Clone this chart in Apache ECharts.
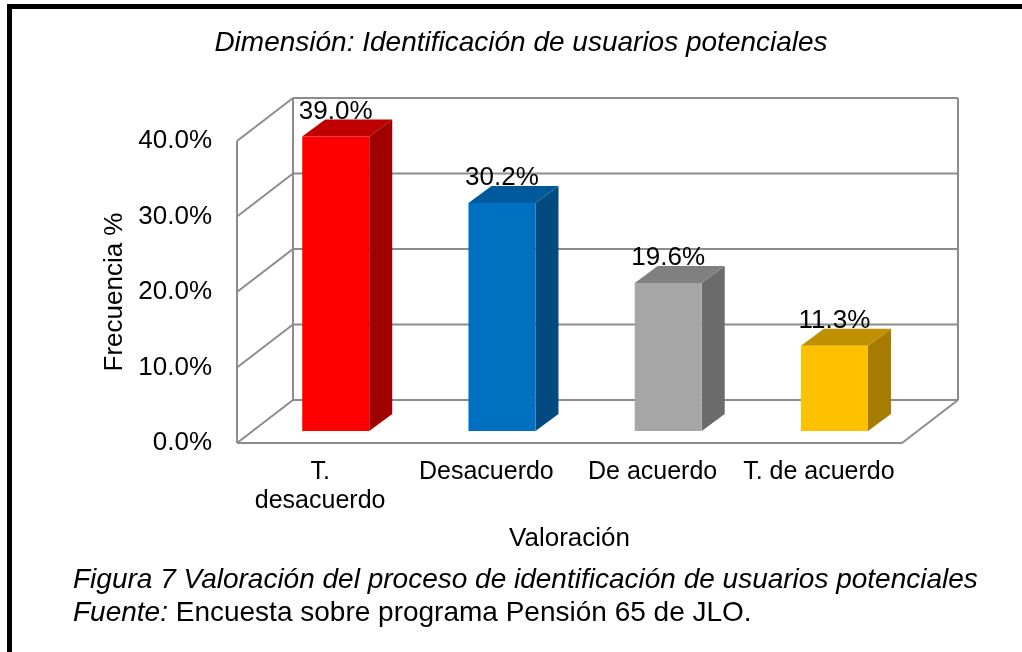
<!DOCTYPE html>
<html>
<head>
<meta charset="utf-8">
<script src="https://cdn.jsdelivr.net/npm/echarts@6/dist/echarts.min.js"></script>
<style>
  html, body { margin: 0; padding: 0; background: #fff; }
  #chart { width: 1022px; height: 652px; }
</style>
</head>
<body>
<div id="chart"></div>
<script>
// datos
const categories = ["T.\ndesacuerdo", "Desacuerdo", "De acuerdo", "T. de acuerdo"];
const values = [39.0, 30.2, 19.6, 11.3];
const yTicks = [0, 10, 20, 30, 40];
const frontColors = ["#ff0000", "#0070c0", "#a6a6a6", "#ffc000"];
const topColors = ["#c00000", "#00599a", "#808080", "#bf9000"];
const sideColors = ["#a00000", "#004a80", "#6b6b6b", "#a67c00"];

const FONT = "Liberation Sans, Arial, sans-serif";
const GRID = "#8c8c8c";
// profundidad del "3D"
const DEPTH = [56, -43];
const BAR_FRONT = [15.6, -12];
const BAR_DEPTH = [23, -17];

const chart = echarts.init(document.getElementById("chart"));

// paredes y piso
function renderFrame(params, api) {
  const cs = params.coordSys;
  const x0 = cs.x, x1 = cs.x + cs.width;
  const y = (v) => api.coord([0, v])[1];
  const st = { stroke: GRID, lineWidth: 2 };
  const line = (a, b, c, d) => ({ type: "line", shape: { x1: a, y1: b, x2: c, y2: d }, style: st });
  const dx = DEPTH[0], dy = DEPTH[1];
  const yMin = y(yTicks[0]), yMax = y(yTicks[yTicks.length - 1]);
  const children = [];
  yTicks.forEach((t) => {
    children.push(line(x0 + dx, y(t) + dy, x1 + dx, y(t) + dy));
    children.push(line(x0, y(t), x0 + dx, y(t) + dy));
  });
  children.push(line(x0 + dx, yMin + dy, x0 + dx, yMax + dy));
  children.push(line(x1 + dx, yMin + dy, x1 + dx, yMax + dy));
  children.push(line(x0, yMin, x0, yMax));
  children.push(line(x0, yMin, x1, yMin));
  children.push(line(x1, yMin, x1 + dx, yMin + dy));
  return { type: "group", silent: true, children: children };
}

// barras 3D
function renderBar(params, api) {
  const i = api.value(0);
  const base = api.coord([i, 0]);
  const top = api.coord([i, api.value(1)]);
  const w = api.size([1, 0])[0] * 0.403;
  const xl = base[0] - w / 2 + BAR_FRONT[0];
  const xr = xl + w;
  const yb = base[1] + BAR_FRONT[1];
  const yt = top[1] + BAR_FRONT[1];
  const bx = BAR_DEPTH[0], by = BAR_DEPTH[1];
  return {
    type: "group",
    children: [
      { type: "polygon", shape: { points: [[xr, yt], [xr + bx, yt + by], [xr + bx, yb + by], [xr, yb]] },
        style: { fill: sideColors[i] } },
      { type: "polygon", shape: { points: [[xl, yt], [xr, yt], [xr + bx, yt + by], [xl + bx, yt + by]] },
        style: { fill: topColors[i] } },
      { type: "rect", shape: { x: xl, y: yt, width: w, height: yb - yt },
        style: { fill: frontColors[i] } },
      { type: "text", x: (xl + xr) / 2, y: yt - 25,
        style: { text: api.value(1).toFixed(1) + "%", fill: "#000", font: "26px " + FONT,
                 align: "center", verticalAlign: "middle" } }
    ]
  };
}

chart.setOption({
  backgroundColor: "#fff",
  animation: false,
  textStyle: { fontFamily: FONT },
  grid: { left: 237, top: 141, width: 665, height: 302 },
  xAxis: {
    type: "category",
    data: categories,
    axisLine: { show: false },
    axisTick: { show: false },
    axisLabel: { color: "#000", fontSize: 25, lineHeight: 29, margin: 15, interval: 0 },
    name: "Valoración",
    nameLocation: "middle",
    nameGap: 83,
    nameTextStyle: { color: "#000", fontSize: 26 }
  },
  yAxis: {
    type: "value",
    min: 0,
    max: 40,
    interval: 10,
    axisLine: { show: false },
    axisTick: { show: false },
    splitLine: { show: false },
    axisLabel: { color: "#000", fontSize: 26, margin: 25, formatter: (v) => v.toFixed(1) + "%" },
    name: "Frecuencia %",
    nameLocation: "middle",
    nameGap: 109,
    nameTextStyle: { color: "#000", fontSize: 26 }
  },
  series: [
    { type: "custom", renderItem: renderFrame, data: [[0, 0]], z: 1, silent: true },
    { type: "custom", renderItem: renderBar, data: values.map((v, i) => [i, v]), z: 2 }
  ],
  graphic: [
    { type: "line", shape: { x1: 9.5, y1: 4, x2: 9.5, y2: 652 }, style: { stroke: "#000", lineWidth: 5 } },
    { type: "line", shape: { x1: 7, y1: 6.5, x2: 1022, y2: 6.5 }, style: { stroke: "#000", lineWidth: 5 } },
    { type: "text", x: 521, y: 43,
      style: { text: "Dimensión: Identificación de usuarios potenciales", fill: "#000",
               font: "italic 28px " + FONT, align: "center", verticalAlign: "middle" } },
    { type: "text", x: 73, y: 580,
      style: { text: "Figura 7 Valoración del proceso de identificación de usuarios potenciales", fill: "#000",
               font: "italic 28px " + FONT, verticalAlign: "middle" } },
    { type: "text", x: 73, y: 613,
      style: { text: "{i|Fuente:} Encuesta sobre programa Pensión 65 de JLO.", fill: "#000",
               font: "28px " + FONT, verticalAlign: "middle",
               rich: { i: { fontStyle: "italic", fontSize: 28, fontFamily: FONT, fill: "#000" } } } }
  ]
});
</script>
</body>
</html>
